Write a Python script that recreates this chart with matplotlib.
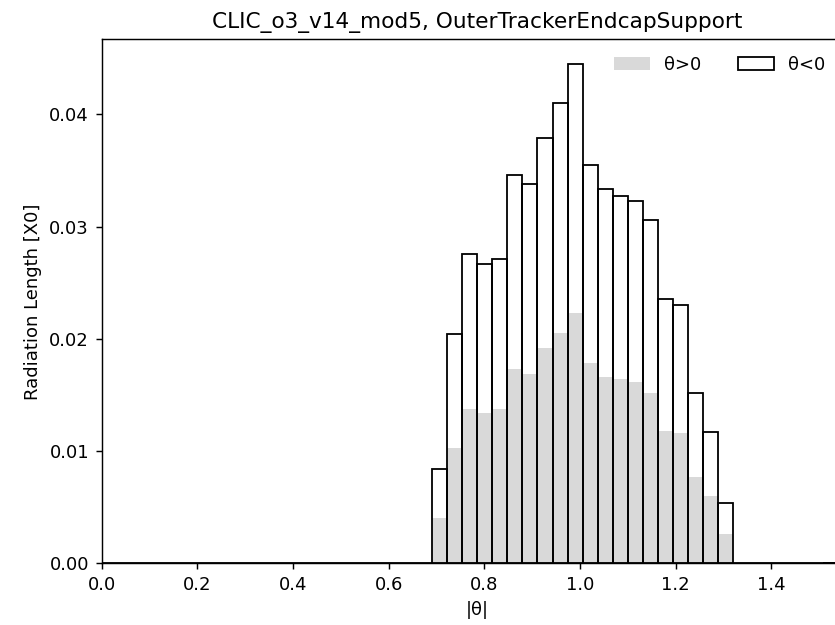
import numpy as np
import matplotlib
matplotlib.use("Agg")
import matplotlib.pyplot as plt

# 50 bins of |theta| over [0, pi/2]; only bins 22..41 are filled
N_BINS = 50
FIRST_BIN = 22

# radiation length per bin, theta > 0 (grey)
theta_pos = [0.00404, 0.01025, 0.01373, 0.01337, 0.01373, 0.01735, 0.01687,
             0.01919, 0.02050, 0.02234, 0.01786, 0.01664, 0.01640, 0.01616,
             0.01518, 0.01179, 0.01159, 0.00769, 0.00597, 0.00258]
# radiation length per bin, theta < 0 (stacked on top, outline)
theta_neg = [0.00434, 0.01022, 0.01381, 0.01334, 0.01339, 0.01729, 0.01694,
             0.01875, 0.02056, 0.02213, 0.01764, 0.01668, 0.01634, 0.01610,
             0.01539, 0.01174, 0.01143, 0.00752, 0.00577, 0.00277]

edges = np.linspace(0, np.pi / 2, N_BINS + 1)
pos = np.zeros(N_BINS)
neg = np.zeros(N_BINS)
pos[FIRST_BIN:FIRST_BIN + len(theta_pos)] = theta_pos
neg[FIRST_BIN:FIRST_BIN + len(theta_neg)] = theta_neg
total = pos + neg

fig = plt.figure(figsize=(835 / 130, 625 / 130), dpi=130)
ax = fig.add_axes([0.1218, 0.0987, 0.8998, 0.8384])

ax.bar(edges[:-1], pos, width=np.diff(edges), align="edge",
       color="#d9d9d9", linewidth=0, label="θ>0")
ax.bar(edges[:-1], total, width=np.diff(edges), align="edge",
       fill=False, edgecolor="black", linewidth=1.0, label="θ<0")

ax.set_xlim(0, np.pi / 2)
ax.set_xticks(np.arange(0, 1.41, 0.2))
ax.set_xlabel("|θ|")
ax.set_ylabel("Radiation Length [X0]")
ax.set_title("CLIC_o3_v14_mod5, OuterTrackerEndcapSupport")
# reference image is clipped on the right, keep the legend just inside
ax.legend(loc="upper right", ncol=2, frameon=False,
          bbox_to_anchor=(0.985, 1.0))

fig.savefig("out.png", dpi=130)
